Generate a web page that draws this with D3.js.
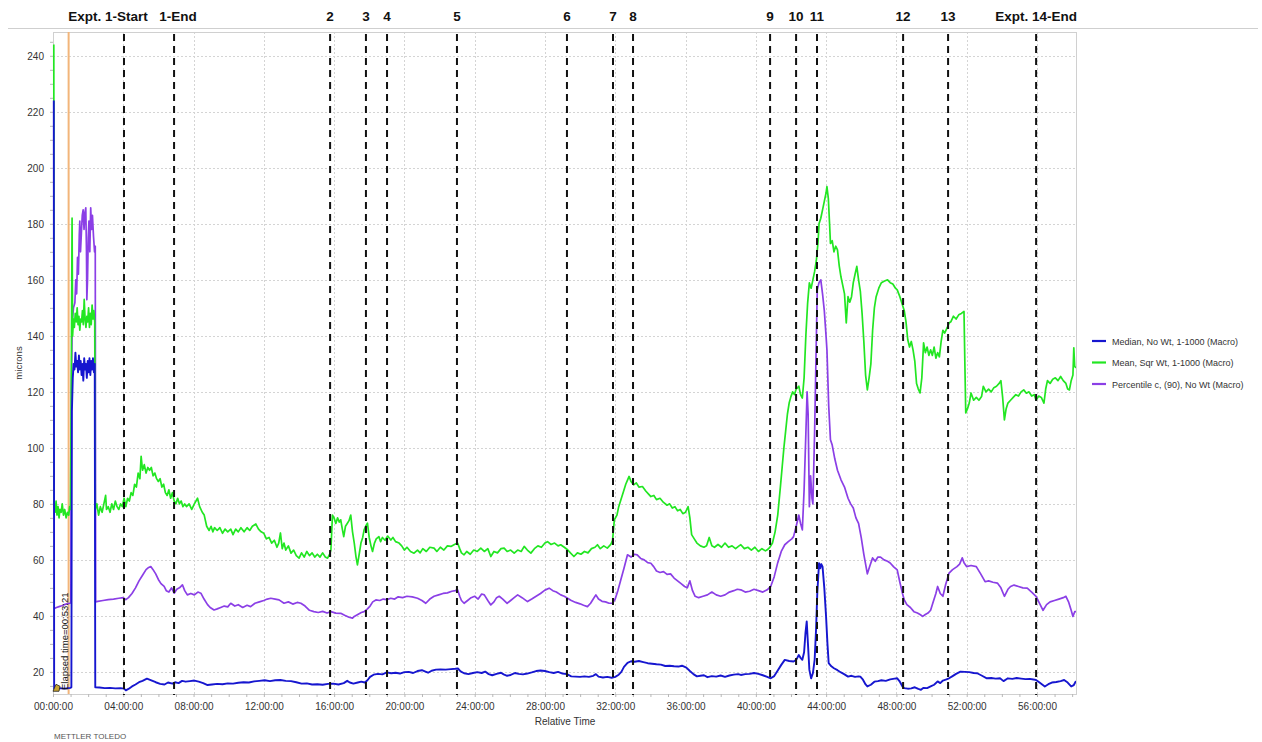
<!DOCTYPE html>
<html>
<head>
<meta charset="utf-8">
<script src="https://cdn.jsdelivr.net/npm/d3@7"></script>
<style>
  body { margin:0; background:#fff; }
  svg { display:block; font-family:"Liberation Sans", Arial, sans-serif; }
  .grid line { stroke:#d4d4d4; stroke-dasharray:2,2; }
  .ax path, .ax line { stroke:#b8b8b8; }
  .ax text { fill:#333; font-size:10px; }
</style>
</head>
<body>
<svg id="chart" width="1262" height="742"></svg>
<script>
// hours, microns
let medianPts = [[0,224],[0.02,14],[0.3,14.2],[0.6,14],[0.95,14.3],[1.0,14.5],[1.03,113],[1.08,125],[1.13,130],[1.18,128],[1.23,134],[1.28,129],[1.33,131],[1.38,127],[1.43,133],[1.48,128],[1.53,131],[1.58,126],[1.63,130],[1.68,124],[1.73,132],[1.78,128],[1.83,130],[1.88,125],[1.93,131],[1.98,127],[2.03,132],[2.08,126],[2.13,131],[2.18,128],[2.23,132],[2.28,127],[2.33,130],[2.36,14.5],[2.6,14.4],[2.9,14.2],[3.2,14.3],[3.5,14.1],[3.8,14.2],[4.0,14],[4.1,13.4],[4.25,13.9],[4.45,14.8],[4.65,15.5],[4.85,16.3],[5.05,16.8],[5.3,17.6],[5.55,17],[5.8,16.3],[6.05,15.7],[6.3,15.5],[6.5,16.2],[6.75,15.8],[6.9,16.3],[7.1,16],[7.3,16.8],[7.5,16.5],[7.75,16.7],[8.0,16.9],[8.25,16.5],[8.5,16],[8.75,15.3],[9.0,15.5],[9.3,15.7],[9.6,15.6],[9.9,15.9],[10.2,15.8],[10.5,16.1],[10.8,16.3],[11.1,16.2],[11.4,16.6],[11.7,16.8],[12.0,17],[12.3,16.7],[12.6,17],[12.9,17.1],[13.2,16.8],[13.5,16.7],[13.8,16.3],[14.1,15.8],[14.4,15.9],[14.7,15.5],[15.0,15.6],[15.3,15.4],[15.6,15.7],[15.9,15.8],[16.2,15.5],[16.5,16],[16.7,16.8],[16.85,16.2],[17.05,15.8],[17.3,16.2],[17.5,16.5],[17.7,16.2],[17.85,17],[18.0,18.2],[18.2,19],[18.45,19.3],[18.7,19.1],[18.95,19.8],[19.2,19.5],[19.45,19.7],[19.7,19.4],[19.95,19.9],[20.2,20],[20.45,19.6],[20.7,20.3],[20.95,20.6],[21.15,20.1],[21.3,19.7],[21.5,20.4],[21.75,20.8],[22.0,20.9],[22.3,20.8],[22.6,21],[22.85,21.1],[23.0,21.2],[23.15,20.2],[23.35,19.5],[23.6,19.2],[23.85,19.6],[24.1,19.9],[24.35,19.6],[24.55,20.1],[24.75,19.2],[24.95,18.8],[25.2,19.3],[25.45,19.7],[25.6,19.1],[25.8,18.6],[26.0,18.9],[26.25,19.6],[26.45,19.3],[26.7,19.1],[26.95,19.4],[27.2,19.8],[27.45,20.3],[27.7,20.5],[27.95,20.3],[28.2,19.9],[28.45,19.6],[28.7,20],[28.95,19.4],[29.2,19.2],[29.45,18.4],[29.7,18.3],[29.95,18.2],[30.2,18.4],[30.45,18.2],[30.7,18.6],[30.85,19.2],[31.0,18.3],[31.25,18],[31.5,18.2],[31.75,17.9],[31.95,18.2],[32.15,19],[32.3,20],[32.45,21.8],[32.65,23.2],[32.85,23.8],[33.05,23.6],[33.3,23.9],[33.55,23.5],[33.8,23.1],[34.05,22.9],[34.3,22.7],[34.55,22.6],[34.8,22.1],[35.05,22.2],[35.3,22],[35.55,21.9],[35.75,22.2],[36.0,21.5],[36.2,20.3],[36.4,19.2],[36.6,18.4],[36.8,18.6],[37.0,18.8],[37.2,18.1],[37.45,18.5],[37.7,18.3],[37.95,18.7],[38.2,18.2],[38.45,18.7],[38.7,19],[38.95,19.2],[39.1,18.9],[39.35,19.2],[39.6,19.3],[39.85,19.6],[40.1,19.3],[40.35,18.8],[40.6,18.2],[40.8,17.7],[41.0,18.5],[41.2,20.5],[41.4,22.5],[41.6,24.3],[41.85,23.9],[42.1,23.7],[42.25,24.3],[42.4,26],[42.5,25],[42.6,24.3],[42.7,27],[42.78,34],[42.85,38],[42.92,30],[43.0,20.7],[43.1,17.7],[43.2,19.5],[43.3,24.3],[43.38,35],[43.45,48],[43.55,58.8],[43.62,57],[43.68,58.5],[43.75,57.6],[43.85,50],[43.95,39.8],[44.03,30],[44.1,23.1],[44.25,22],[44.4,21.3],[44.6,20.6],[44.8,19.8],[45.0,19.1],[45.2,18.3],[45.4,18.6],[45.6,18.2],[45.8,18.4],[45.9,18.3],[46.05,17.2],[46.2,15.5],[46.3,14.8],[46.5,15.4],[46.7,16.5],[46.9,16.7],[47.1,17],[47.35,16.8],[47.6,17.3],[47.85,17.6],[48.0,17.7],[48.15,16.5],[48.3,14.8],[48.4,14.2],[48.6,14],[48.8,14.1],[49.0,14.5],[49.2,13.9],[49.35,13.6],[49.5,14.3],[49.7,14.2],[49.9,14.8],[50.1,15.4],[50.3,16.6],[50.45,16],[50.6,16.9],[50.8,17.3],[50.95,17.7],[51.15,18.5],[51.35,19.3],[51.6,20.1],[51.85,20],[52.1,19.9],[52.35,19.6],[52.55,19.5],[52.8,18.7],[53.1,17.7],[53.35,17.8],[53.6,17.6],[53.85,17.7],[54.05,16.7],[54.3,17.7],[54.55,17.5],[54.8,17.8],[55.05,17.6],[55.3,17.4],[55.55,17.5],[55.75,17.3],[55.9,17.1],[56.1,16.2],[56.25,15.5],[56.4,14.8],[56.6,15.6],[56.8,16.2],[57.05,16.4],[57.3,16.7],[57.5,17.1],[57.7,16.2],[57.9,14.8],[58.05,15.3],[58.15,16.5],[58.2,16.5]];

let meanPts = [[0,244],[0.02,80],[0.08,77],[0.13,81],[0.18,76],[0.24,79],[0.3,75],[0.35,78],[0.42,77],[0.48,80],[0.55,76],[0.62,78],[0.7,75],[0.78,77],[0.85,76],[0.9,79],[0.95,78],[1.0,130],[1.04,182],[1.07,140],[1.12,146],[1.17,143],[1.22,148],[1.28,145],[1.33,150],[1.38,144],[1.43,147],[1.48,142],[1.53,146],[1.58,145],[1.63,149],[1.68,144],[1.73,153],[1.78,146],[1.83,143],[1.88,147],[1.93,145],[1.98,150],[2.03,143],[2.08,148],[2.13,144],[2.18,151],[2.23,146],[2.28,149],[2.33,145],[2.36,78],[2.45,80],[2.55,76],[2.65,79],[2.75,77],[2.85,80],[2.95,83],[3.0,78],[3.1,79],[3.2,77],[3.3,80],[3.4,78],[3.5,81],[3.6,79],[3.7,78],[3.8,80],[3.9,79],[4.0,82],[4.1,79],[4.2,82],[4.3,81],[4.4,84],[4.5,83],[4.6,87],[4.7,86],[4.8,91],[4.9,89],[4.97,97],[5.05,92],[5.15,94],[5.25,91],[5.35,93],[5.45,92],[5.55,93],[5.65,90],[5.75,91],[5.85,89],[5.95,88],[6.05,89],[6.15,86],[6.25,87],[6.35,84],[6.45,83],[6.55,85],[6.65,82],[6.75,84],[6.85,81],[6.95,80],[7.05,82],[7.15,80],[7.25,81],[7.35,79],[7.45,80],[7.55,79],[7.7,80],[7.85,78],[8.0,80],[8.18,82],[8.3,79],[8.45,77],[8.56,76],[8.7,72],[8.84,70.5],[8.95,72],[9.05,70],[9.15,71.5],[9.3,70.5],[9.45,71.5],[9.6,69.5],[9.75,71],[9.9,70],[10.07,71],[10.2,69],[10.35,71],[10.5,70],[10.65,71.5],[10.83,70],[11.0,71.5],[11.15,70.5],[11.3,72],[11.5,72.8],[11.65,71],[11.8,70],[11.95,69.5],[12.1,67.5],[12.25,68],[12.4,66],[12.55,67],[12.7,64.5],[12.8,66],[12.9,69.6],[13.0,64],[13.1,66],[13.2,63.5],[13.35,65],[13.5,62.4],[13.65,63.5],[13.8,61.5],[13.96,60.6],[14.1,62.5],[14.25,61],[14.4,63],[14.55,61.5],[14.7,62.5],[14.85,61],[15.0,62],[15.15,61],[15.3,62.5],[15.45,61],[15.58,60.6],[15.7,62],[15.77,63.6],[15.86,76],[15.95,75],[16.05,73],[16.15,75],[16.25,73.5],[16.33,74.3],[16.42,71],[16.5,68.3],[16.6,72],[16.7,73],[16.8,74],[16.9,76],[17.0,70],[17.1,66],[17.2,61],[17.28,58.2],[17.38,62],[17.48,66],[17.58,68],[17.66,70.7],[17.75,72],[17.85,73.1],[17.95,68],[18.05,65],[18.14,63],[18.25,66],[18.35,67.5],[18.5,68.3],[18.6,66.5],[18.7,68],[18.85,67],[19.0,68.5],[19.18,67.1],[19.3,68],[19.45,66.5],[19.65,66],[19.8,65],[19.95,63.5],[20.1,64.5],[20.3,63],[20.5,62.4],[20.7,63.5],[20.85,62.5],[21.0,64],[21.2,63],[21.4,64.5],[21.64,64.2],[21.8,63],[22.0,64.5],[22.2,63.5],[22.4,65],[22.6,64.8],[22.8,65.5],[22.98,66],[23.1,64],[23.2,62.5],[23.35,61.8],[23.5,63],[23.7,62],[23.9,63.5],[24.1,63],[24.3,64.2],[24.5,63],[24.7,64],[24.87,61.2],[25.05,63],[25.25,62.5],[25.45,64],[25.63,64.2],[25.8,63],[26.0,63.5],[26.2,62.4],[26.4,63.5],[26.6,63],[26.77,64.8],[26.95,63.5],[27.15,62.4],[27.35,64],[27.55,65],[27.75,64.5],[27.95,66],[28.1,66.5],[28.3,65.5],[28.5,66],[28.7,65],[28.85,65.4],[29.05,64.5],[29.24,63.6],[29.4,62.5],[29.6,61.2],[29.8,62.5],[30.0,62],[30.2,63],[30.4,62.5],[30.6,64],[30.8,64.5],[30.94,65.4],[31.1,64],[31.3,65],[31.5,64.2],[31.7,65.5],[31.8,67],[31.9,74.3],[32.05,76],[32.15,79],[32.27,81.4],[32.4,84],[32.55,87],[32.65,88.5],[32.74,89.8],[32.85,88],[33.0,86.8],[33.15,87.5],[33.3,86],[33.5,86.2],[33.7,84.5],[33.85,83.5],[33.98,82.6],[34.15,83],[34.3,81.5],[34.5,82],[34.7,80.5],[34.9,79.5],[35.05,80],[35.2,78.5],[35.35,79],[35.5,77.5],[35.65,78],[35.8,76.5],[35.95,77],[36.1,79],[36.2,75],[36.3,69],[36.45,67.5],[36.6,66],[36.8,65],[37.0,64.5],[37.15,65],[37.3,68],[37.45,65],[37.6,64.5],[37.8,65.5],[38.0,64.5],[38.2,66],[38.4,64.5],[38.6,65],[38.8,64],[39.0,65],[39.1,65.4],[39.3,64],[39.5,64.5],[39.7,63.5],[39.9,64.5],[40.1,63],[40.3,64],[40.5,63.2],[40.6,63.6],[40.75,64.5],[40.9,66],[41.05,70],[41.2,76],[41.35,86],[41.45,93],[41.55,100],[41.65,106],[41.75,112],[41.85,116],[41.95,118.3],[42.05,120],[42.15,119],[42.25,121],[42.4,122],[42.5,119],[42.6,117.8],[42.7,125],[42.8,140],[42.9,151.6],[43.0,158.9],[43.1,157],[43.2,160],[43.3,163],[43.4,167],[43.5,174],[43.55,180],[43.65,182],[43.75,185],[43.85,188],[43.95,191],[44.0,193.3],[44.08,189],[44.15,180],[44.2,173],[44.3,174],[44.4,170],[44.5,172],[44.6,170.7],[44.7,165],[44.8,161],[44.9,158],[45.0,155],[45.1,144.6],[45.2,154],[45.3,152],[45.4,154],[45.5,159],[45.6,162],[45.7,164.8],[45.8,160],[45.9,156],[46.0,148],[46.1,138],[46.2,126],[46.3,120.7],[46.4,125],[46.5,130],[46.6,142],[46.7,150],[46.8,154],[46.95,157],[47.1,159],[47.25,159.5],[47.45,160],[47.6,159],[47.75,158.5],[47.9,157],[48.0,156.4],[48.15,154],[48.3,151],[48.4,149],[48.5,145],[48.6,138.6],[48.7,136],[48.8,138],[48.9,135],[49.0,131],[49.1,123],[49.2,121],[49.3,119.6],[49.4,125],[49.5,137.5],[49.6,134],[49.7,136],[49.8,133],[49.9,135],[50.0,133],[50.1,136],[50.2,132],[50.3,134],[50.4,132.5],[50.5,138],[50.6,142],[50.7,141],[50.85,143],[50.95,144.6],[51.05,145],[51.2,147],[51.35,146],[51.5,147.5],[51.65,148],[51.8,148.7],[51.85,130],[51.9,112.5],[52.0,114],[52.1,116],[52.2,119.6],[52.35,117],[52.5,118],[52.65,117],[52.8,118.3],[52.9,122],[53.05,120],[53.2,121],[53.35,120],[53.5,121.5],[53.65,122],[53.8,123],[53.9,124],[54.0,118],[54.1,110],[54.2,114],[54.3,116],[54.45,117],[54.6,118],[54.75,119],[54.9,118.5],[55.05,120],[55.2,120.7],[55.35,119.5],[55.5,120],[55.65,118.5],[55.8,119],[55.9,117],[56.05,118.5],[56.2,118],[56.35,116],[56.45,121],[56.55,124],[56.7,123],[56.85,124.5],[57.0,125],[57.15,124],[57.3,125.5],[57.45,124],[57.6,123],[57.7,121],[57.8,120.7],[57.9,124],[58.0,126],[58.05,135.7],[58.1,129],[58.2,128.6]];

let pctPts = [[0,42.5],[0.15,43],[0.3,43.3],[0.45,43.6],[0.6,44],[0.75,44.3],[0.9,44.5],[0.97,44.6],[1.0,120],[1.05,145],[1.12,150],[1.2,151.8],[1.25,160],[1.3,155],[1.35,168],[1.4,162],[1.45,176],[1.48,181],[1.52,170],[1.57,176.7],[1.62,183],[1.67,185],[1.72,178],[1.77,184],[1.82,185.7],[1.86,170],[1.88,152.9],[1.92,160],[1.96,175],[2.0,181],[2.05,170],[2.1,185.7],[2.15,178],[2.2,183],[2.26,175.5],[2.32,170],[2.36,172],[2.38,45],[2.5,45.2],[2.8,45.5],[3.1,45.8],[3.4,46],[3.7,46.3],[3.95,46.5],[4.1,45.8],[4.25,46.5],[4.45,48],[4.65,50],[4.85,52.5],[5.05,54.5],[5.25,56.5],[5.4,57.3],[5.52,57.6],[5.65,56.5],[5.8,55],[5.95,53],[6.1,51.5],[6.28,50.5],[6.4,49],[6.55,48.5],[6.7,50],[6.85,48.1],[7.0,49.5],[7.15,50],[7.32,51.1],[7.45,49],[7.6,47.5],[7.8,48],[8.0,47.5],[8.2,48.5],[8.37,48.1],[8.55,46],[8.75,44],[8.9,43],[9.12,42.1],[9.3,42.5],[9.5,43],[9.7,43.5],[9.9,43.2],[10.07,44.5],[10.3,43.5],[10.5,44],[10.75,43],[11.0,43.8],[11.2,43.3],[11.45,44.5],[11.7,45],[11.95,45.5],[12.15,46],[12.35,46.3],[12.6,46],[12.82,45.7],[13.1,44.5],[13.35,45],[13.6,44.2],[13.85,44.8],[14.06,44.5],[14.3,43.5],[14.55,42],[14.8,41.5],[15.05,41.2],[15.3,41.6],[15.55,41],[15.77,41.5],[16.05,41],[16.33,40.9],[16.55,40.2],[16.8,39.5],[17.0,39.2],[17.1,39.8],[17.3,40.5],[17.5,41.2],[17.66,41.5],[17.85,42.5],[18.0,43.5],[18.15,45],[18.33,45.7],[18.55,45.5],[18.75,46],[18.95,45.8],[19.18,46.3],[19.4,46],[19.6,46.8],[19.85,46.5],[20.1,47],[20.4,46.8],[20.7,46.3],[20.95,45.5],[21.17,44.5],[21.4,46],[21.64,47],[21.9,47.5],[22.15,48],[22.4,48.2],[22.65,48.8],[22.85,49],[22.98,49.3],[23.1,47],[23.2,45.5],[23.35,44.5],[23.55,45.5],[23.75,46.5],[23.95,47],[24.15,46],[24.35,47.8],[24.5,47.5],[24.7,45.5],[24.87,43.9],[25.05,45],[25.2,46.5],[25.35,47],[25.55,46],[25.8,44.5],[26.0,45.5],[26.2,46.5],[26.4,47.5],[26.65,46.5],[26.96,45.1],[27.2,46],[27.45,47],[27.7,48],[27.95,49.2],[28.19,49.9],[28.4,49],[28.6,48.5],[28.85,47.5],[29.05,47],[29.24,46.3],[29.45,45.5],[29.7,44.8],[29.95,44.3],[30.15,43.8],[30.37,43.3],[30.55,44.5],[30.7,46],[30.85,47.5],[31.0,46],[31.2,45.2],[31.4,45],[31.6,44.5],[31.8,44.5],[31.95,46],[32.1,49],[32.27,52.9],[32.45,57],[32.65,61.8],[32.85,61],[33.05,62],[33.2,61.8],[33.4,60.5],[33.6,60],[33.8,59],[33.98,58.8],[34.15,57.5],[34.3,56],[34.5,55.5],[34.7,55.8],[34.9,54.8],[35.1,55],[35.3,53.5],[35.5,52.5],[35.7,51.5],[35.9,50.5],[36.05,50],[36.2,52.5],[36.35,49],[36.5,47],[36.7,46.5],[36.95,47],[37.2,47.5],[37.45,48.5],[37.7,47.5],[37.95,47],[38.2,47.5],[38.45,48.5],[38.7,49],[38.9,49.5],[39.1,49.3],[39.35,48.5],[39.6,48.8],[39.85,49.5],[40.1,49],[40.35,48.5],[40.6,49.3],[40.8,50.5],[41.0,54],[41.2,59],[41.4,63],[41.6,65.4],[41.8,66.5],[42.0,67.5],[42.1,68.3],[42.25,72],[42.4,76],[42.5,73],[42.6,70.7],[42.7,85],[42.8,105],[42.87,120],[42.93,112],[43.0,79],[43.07,90],[43.15,82],[43.2,80],[43.3,106],[43.4,140],[43.45,156.4],[43.55,159],[43.65,160],[43.75,155],[43.85,149],[43.95,140],[44.0,135],[44.1,115],[44.2,102.9],[44.3,101],[44.45,96],[44.6,92],[44.8,88.6],[45.0,86],[45.2,82],[45.35,80],[45.5,78.5],[45.65,75],[45.8,73],[45.95,68],[46.1,62],[46.3,55],[46.45,58],[46.6,60.7],[46.75,59.5],[46.9,61],[47.05,61],[47.25,60],[47.45,59.5],[47.6,58.9],[47.8,57.5],[48.0,56.4],[48.15,52],[48.3,48],[48.4,45.7],[48.55,44],[48.75,43],[48.95,41.5],[49.15,41],[49.3,40.5],[49.45,39.8],[49.6,40.5],[49.75,41],[49.9,42],[50.05,45],[50.2,48],[50.3,50.5],[50.45,48],[50.6,47],[50.75,51],[50.95,55.3],[51.15,56.5],[51.4,57.6],[51.55,58.5],[51.7,60.7],[51.8,59],[51.95,57.6],[52.2,58],[52.5,57.6],[52.75,55],[53.0,52.2],[53.2,52.5],[53.45,52],[53.7,51.7],[53.9,50],[54.1,47],[54.3,49.5],[54.45,50.5],[54.65,51],[54.9,50.5],[55.15,50],[55.4,49.9],[55.65,48.5],[55.9,47],[56.1,44.5],[56.3,42],[56.5,44],[56.7,45],[56.95,45.5],[57.2,46],[57.45,46.5],[57.6,47],[57.75,45],[57.9,42],[58.0,39.8],[58.1,41.5],[58.2,41.5]];

let seriesNames = ["Median, No Wt, 1-1000 (Macro)", "Mean, Sqr Wt, 1-1000 (Macro)", "Percentile c, (90), No Wt (Macro)"];
let seriesColors = ["#1616cf", "#22e622", "#8b3fe6"];

let markerTimes = [4.04, 6.89, 15.77, 17.81, 19.01, 22.99, 29.25, 31.87, 33.01, 40.81, 42.29, 43.48, 48.38, 50.94, 55.95];
let markerLabels = ["Expt. 1-Start", "1-End", "2", "3", "4", "5", "6", "7", "8", "9", "10", "11", "12", "13", "Expt. 14-End"];
let elapsedTime = 53/60 + 21/3600;

let yTicks = d3.range(20, 241, 20);
let xTicks = d3.range(0, 57, 4);

let svg = d3.select("#chart");
let plotL = 53, plotR = 1076, plotT = 32, plotB = 694;

let x = d3.scaleLinear().domain([0, 58.22]).range([plotL, plotR]);
let y = d3.scaleLinear().domain([12.1, 248.5]).range([plotB, plotT]);

// separator under the experiment labels
svg.append("line").attr("x1", 8).attr("x2", 1258).attr("y1", 28.5).attr("y2", 28.5)
    .attr("stroke", "#cfcfcf").attr("stroke-width", 1.2);

svg.append("g").attr("class", "grid")
    .selectAll("line").data(yTicks).enter().append("line")
    .attr("x1", plotL).attr("x2", plotR)
    .attr("y1", d => Math.round(y(d)) + 0.5).attr("y2", d => Math.round(y(d)) + 0.5);
svg.append("g").attr("class", "grid")
    .selectAll("line").data(xTicks.slice(1)).enter().append("line")
    .attr("x1", d => Math.round(x(d)) + 0.5).attr("x2", d => Math.round(x(d)) + 0.5)
    .attr("y1", plotT).attr("y2", plotB);

svg.append("rect").attr("x", plotL + 0.5).attr("y", plotT + 0.5)
    .attr("width", plotR - plotL).attr("height", plotB - plotT)
    .attr("fill", "none").attr("stroke", "#d0d0d0");

let fmt = d => String(d).padStart(2, "0") + ":00:00";

let gx = svg.append("g").attr("class", "ax").attr("transform", `translate(0,${plotB})`)
    .call(d3.axisBottom(x).tickValues(xTicks).tickFormat(fmt).tickSize(0).tickPadding(9));
gx.select(".domain").remove();
svg.append("g").attr("class", "ax").attr("transform", `translate(0,${plotB})`)
    .call(d3.axisBottom(x).tickValues(d3.range(0, 58.2, 1)).tickFormat("").tickSize(3))
    .select(".domain").remove();

let gy = svg.append("g").attr("class", "ax").attr("transform", `translate(${plotL},0)`)
    .call(d3.axisLeft(y).tickValues(yTicks).tickSize(0).tickPadding(9));
gy.select(".domain").remove();
svg.append("g").attr("class", "ax").attr("transform", `translate(${plotL},0)`)
    .call(d3.axisLeft(y).tickValues(d3.range(15, 248, 5)).tickFormat("").tickSize(3))
    .select(".domain").remove();

svg.append("text").attr("transform", "translate(22,363) rotate(-90)")
    .attr("text-anchor", "middle").attr("font-size", 9.5).attr("fill", "#333").text("microns");
svg.append("text").attr("x", 565).attr("y", 725)
    .attr("text-anchor", "middle").attr("font-size", 10).attr("fill", "#333").text("Relative Time");
svg.append("text").attr("x", 54).attr("y", 739)
    .attr("font-size", 8).attr("fill", "#555").text("METTLER TOLEDO");

svg.append("clipPath").attr("id", "plotclip").append("rect")
    .attr("x", plotL - 2).attr("y", plotT).attr("width", plotR - plotL + 2).attr("height", plotB - plotT);

let line = d3.line().x(d => x(d[0]) + 0.8).y(d => y(d[1]));
let plot = svg.append("g").attr("clip-path", "url(#plotclip)");

// elapsed-time cursor
plot.append("line").attr("x1", x(elapsedTime)).attr("x2", x(elapsedTime))
    .attr("y1", plotT).attr("y2", plotB).attr("stroke", "#f2b57a").attr("stroke-width", 2);

let drawOrder = [[pctPts, 2], [meanPts, 1], [medianPts, 0]];
plot.selectAll(".series").data(drawOrder).enter().append("path")
    .attr("class", "series")
    .attr("d", d => line(d[0]))
    .attr("fill", "none")
    .attr("stroke", d => seriesColors[d[1]])
    .attr("stroke-width", d => d[1] == 0 ? 1.9 : 1.7)
    .attr("stroke-linejoin", "round");

svg.append("text")
    .attr("transform", `translate(${x(elapsedTime) - 1},${plotB - 4}) rotate(-90)`)
    .attr("font-size", 9.5).attr("fill", "#111").text("Elapsed time=00:53:21");

svg.append("path")
    .attr("transform", `translate(${x(0) + 3},${y(14.5)})`)
    .attr("d", "M-3,4 L0,-3 L4,-1 L3,4 Z").attr("fill", "#c9a431").attr("stroke", "#222").attr("stroke-width", 0.8);

svg.selectAll(".mark").data(markerTimes).enter().append("line")
    .attr("class", "mark")
    .attr("x1", d => x(d)).attr("x2", d => x(d))
    .attr("y1", plotT + 2).attr("y2", plotB + 1)
    .attr("stroke", "#111").attr("stroke-width", 2).attr("stroke-dasharray", "7,5");

let labelShift = {0: -16, 1: 4};
svg.selectAll(".mlabel").data(markerTimes).enter().append("text")
    .attr("class", "mlabel")
    .attr("x", (d, i) => x(d) + (labelShift[i] || 0))
    .attr("y", 21)
    .attr("text-anchor", "middle")
    .attr("font-size", 13.5).attr("font-weight", "bold").attr("fill", "#111")
    .text((d, i) => markerLabels[i]);

let legend = svg.append("g").attr("transform", "translate(1092,341)");
seriesNames.forEach((name, i) => {
    legend.append("line").attr("x1", 0).attr("x2", 14).attr("y1", i * 21.5).attr("y2", i * 21.5)
        .attr("stroke", seriesColors[i]).attr("stroke-width", 2.2);
    legend.append("text").attr("x", 20).attr("y", i * 21.5 + 3.5)
        .attr("font-size", 9).attr("fill", "#333").text(name);
});
</script>
</body>
</html>
